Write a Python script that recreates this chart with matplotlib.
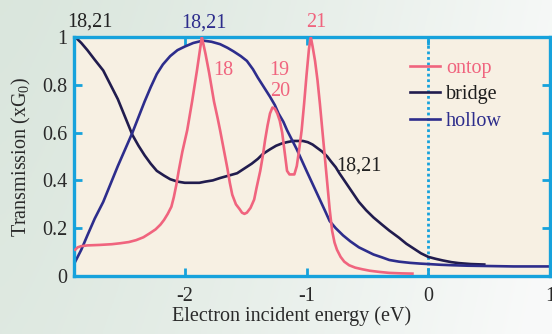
import numpy as np
import matplotlib
matplotlib.use("Agg")
import matplotlib.pyplot as plt

plt.rcParams["font.family"] = "serif"
plt.rcParams["font.serif"] = ["Liberation Serif", "Times New Roman", "DejaVu Serif"]
plt.rcParams["mathtext.fontset"] = "custom"
plt.rcParams["mathtext.rm"] = "Liberation Serif"
plt.rcParams["axes.unicode_minus"] = False

# data
ontop_x = [-2.90, -2.88, -2.85, -2.80, -2.70, -2.60, -2.53, -2.46, -2.40, -2.34, -2.29,
           -2.24, -2.20, -2.17, -2.14, -2.11, -2.09, -2.07, -2.05, -2.02, -1.98, -1.94,
           -1.90, -1.88, -1.86, -1.83, -1.80, -1.76, -1.73, -1.71, -1.68, -1.65, -1.63,
           -1.61, -1.58, -1.55, -1.53, -1.51, -1.49, -1.46, -1.43, -1.41, -1.38, -1.36,
           -1.34, -1.32, -1.30, -1.28, -1.26, -1.24, -1.22, -1.20, -1.18, -1.16, -1.14,
           -1.10, -1.08, -1.06, -1.04, -1.02, -1.00, -0.98, -0.965, -0.95, -0.93, -0.91,
           -0.89, -0.87, -0.85, -0.83, -0.81, -0.79, -0.77, -0.75, -0.72, -0.69, -0.65,
           -0.60, -0.54, -0.48, -0.40, -0.32, -0.22, -0.13]
ontop_y = [0.11, 0.12, 0.125, 0.128, 0.13, 0.133, 0.137, 0.142, 0.15, 0.162, 0.178,
           0.195, 0.215, 0.235, 0.26, 0.29, 0.33, 0.38, 0.44, 0.52, 0.61, 0.73,
           0.86, 0.93, 1.00, 0.93, 0.85, 0.73, 0.66, 0.61, 0.53, 0.45, 0.39,
           0.34, 0.30, 0.28, 0.265, 0.26, 0.265, 0.285, 0.32, 0.37, 0.44, 0.50,
           0.57, 0.63, 0.68, 0.705, 0.70, 0.68, 0.65, 0.60, 0.52, 0.44, 0.425,
           0.425, 0.46, 0.53, 0.61, 0.72, 0.84, 0.95, 1.00, 0.96, 0.90, 0.82,
           0.72, 0.61, 0.50, 0.39, 0.28, 0.19, 0.14, 0.11, 0.08, 0.06, 0.045,
           0.035, 0.028, 0.022, 0.017, 0.013, 0.011, 0.01]

bridge_x = [-2.90, -2.85, -2.80, -2.74, -2.67, -2.61, -2.55, -2.49, -2.43, -2.38, -2.33,
            -2.28, -2.23, -2.17, -2.12, -2.06, -2.00, -1.94, -1.88, -1.83, -1.77, -1.71,
            -1.64, -1.57, -1.51, -1.45, -1.40, -1.36, -1.30, -1.25, -1.20, -1.16, -1.11,
            -1.07, -1.03, -0.99, -0.95, -0.91, -0.87, -0.83, -0.80, -0.76, -0.73, -0.69,
            -0.65, -0.61, -0.57, -0.51, -0.45, -0.38, -0.32, -0.24, -0.18, -0.12, -0.06,
            0.0, 0.06, 0.12, 0.19, 0.25, 0.35, 0.46]
bridge_y = [1.00, 0.975, 0.945, 0.905, 0.86, 0.80, 0.74, 0.665, 0.59, 0.545, 0.505,
            0.47, 0.44, 0.42, 0.405, 0.395, 0.39, 0.39, 0.39, 0.395, 0.40, 0.41,
            0.42, 0.43, 0.45, 0.47, 0.49, 0.51, 0.53, 0.545, 0.555, 0.56, 0.565,
            0.565, 0.565, 0.56, 0.55, 0.535, 0.52, 0.50, 0.48, 0.455, 0.43, 0.40,
            0.37, 0.34, 0.31, 0.275, 0.245, 0.215, 0.19, 0.16, 0.135, 0.115, 0.095,
            0.08, 0.072, 0.065, 0.058, 0.054, 0.05, 0.048]

hollow_x = [-2.90, -2.85, -2.80, -2.74, -2.67, -2.61, -2.55, -2.49, -2.43, -2.38, -2.33,
            -2.28, -2.23, -2.18, -2.12, -2.06, -2.00, -1.93, -1.85, -1.78, -1.71, -1.65,
            -1.60, -1.54, -1.49, -1.44, -1.40, -1.35, -1.30, -1.26, -1.23, -1.19, -1.16,
            -1.12, -1.08, -1.04, -1.00, -0.95, -0.90, -0.85, -0.81, -0.76, -0.70, -0.64,
            -0.57, -0.51, -0.45, -0.38, -0.32, -0.24, -0.15, -0.07, 0.0, 0.1, 0.2,
            0.33, 0.46, 0.7, 1.0]
hollow_y = [0.06, 0.11, 0.17, 0.24, 0.31, 0.385, 0.46, 0.53, 0.60, 0.665, 0.73,
            0.79, 0.845, 0.885, 0.92, 0.945, 0.96, 0.975, 0.985, 0.98, 0.97, 0.955,
            0.94, 0.92, 0.90, 0.865, 0.83, 0.79, 0.75, 0.715, 0.68, 0.645, 0.61,
            0.57, 0.53, 0.485, 0.44, 0.385, 0.33, 0.275, 0.23, 0.20, 0.17, 0.145,
            0.12, 0.105, 0.09, 0.078, 0.067, 0.06, 0.055, 0.052, 0.05, 0.047, 0.045,
            0.043, 0.042, 0.04, 0.04]

labels = ["ontop", "bridge", "hollow"]
x_ticks = [-2, -1, 0, 1]
y_ticks = [0, 0.2, 0.4, 0.6, 0.8, 1]
y_tick_labels = ["0", "0.2", "0.4", "0.6", "0.8", "1"]

pink = "#f0647e"
navy = "#211c4e"
blue = "#2d2d8c"
edge = "#16a2dc"
fs = 14.5

fig = plt.figure(figsize=(5.52, 3.34), dpi=100)

# soft greenish background fading to white on the right
bg = fig.add_axes([0, 0, 1, 1], zorder=-10)
gx = np.linspace(0, 1, 256)
gy = np.linspace(0, 1, 64)
g = np.clip(gx[None, :] ** 1.3 * 0.9 + gy[:, None] * 0.15, 0, 1)
left = np.array([0.855, 0.902, 0.866])
right = np.array([0.975, 0.98, 0.978])
img = left[None, None, :] * (1 - g[..., None]) + right[None, None, :] * g[..., None]
bg.imshow(img, aspect="auto", extent=[0, 1, 0, 1], origin="upper")
bg.axis("off")

ax = fig.add_axes([74 / 552, 58 / 334, 476 / 552, 239 / 334], facecolor="#f7f0e3")

ax.plot(ontop_x, ontop_y, color=pink, lw=1.9, label=labels[0], zorder=3,
        solid_joinstyle="round")
ax.plot(bridge_x, bridge_y, color=navy, lw=1.9, label=labels[1], zorder=2,
        solid_joinstyle="round")
ax.plot(hollow_x, hollow_y, color=blue, lw=1.9, label=labels[2], zorder=2,
        solid_joinstyle="round")
ax.axvline(0, color=edge, lw=2, ls=(0, (1, 1)), zorder=1)

ax.set_xlim(-2.91, 1.0)
ax.set_ylim(0, 1)
ax.set_xticks(x_ticks)
ax.set_yticks(y_ticks)
ax.set_yticklabels(y_tick_labels)

ax.tick_params(direction="in", length=6, width=2, color=edge, labelsize=fs,
               labelcolor="#2a2a2a", top=True, right=True)
ax.tick_params(axis="x", pad=8)
ax.tick_params(axis="y", pad=5)
for s in ax.spines.values():
    s.set_color(edge)
    s.set_linewidth(2.4)

ax.set_xlabel("Electron incident energy (eV)", fontsize=fs, color="#2a2a2a")
ax.xaxis.set_label_coords(0.458, -0.125)
ax.set_ylabel("Transmission (xG$_0$)", fontsize=fs, color="#2a2a2a", labelpad=6)

leg = ax.legend(loc="upper left", bbox_to_anchor=(0.705, 0.91), frameon=False,
                fontsize=fs, handlelength=1.5, handletextpad=0.3, labelspacing=0.38,
                borderpad=0, borderaxespad=0)
for t, c in zip(leg.get_texts(), [pink, "#1e1e1e", blue]):
    t.set_color(c)

kw = dict(fontsize=fs, ha="center", va="center", clip_on=False)
ax.text(-2.78, 1.063, "18,21", color="#222222", **kw)
ax.text(-1.84, 1.06, "18,21", color=blue, **kw)
ax.text(-0.92, 1.06, "21", color=pink, **kw)
ax.text(-1.68, 0.86, "18", color=pink, **kw)
ax.text(-1.22, 0.86, "19", color=pink, **kw)
ax.text(-1.22, 0.77, "20", color=pink, **kw)
ax.text(-0.57, 0.46, "18,21", color="#222222", **kw)

fig.savefig("out.png", dpi=100)
